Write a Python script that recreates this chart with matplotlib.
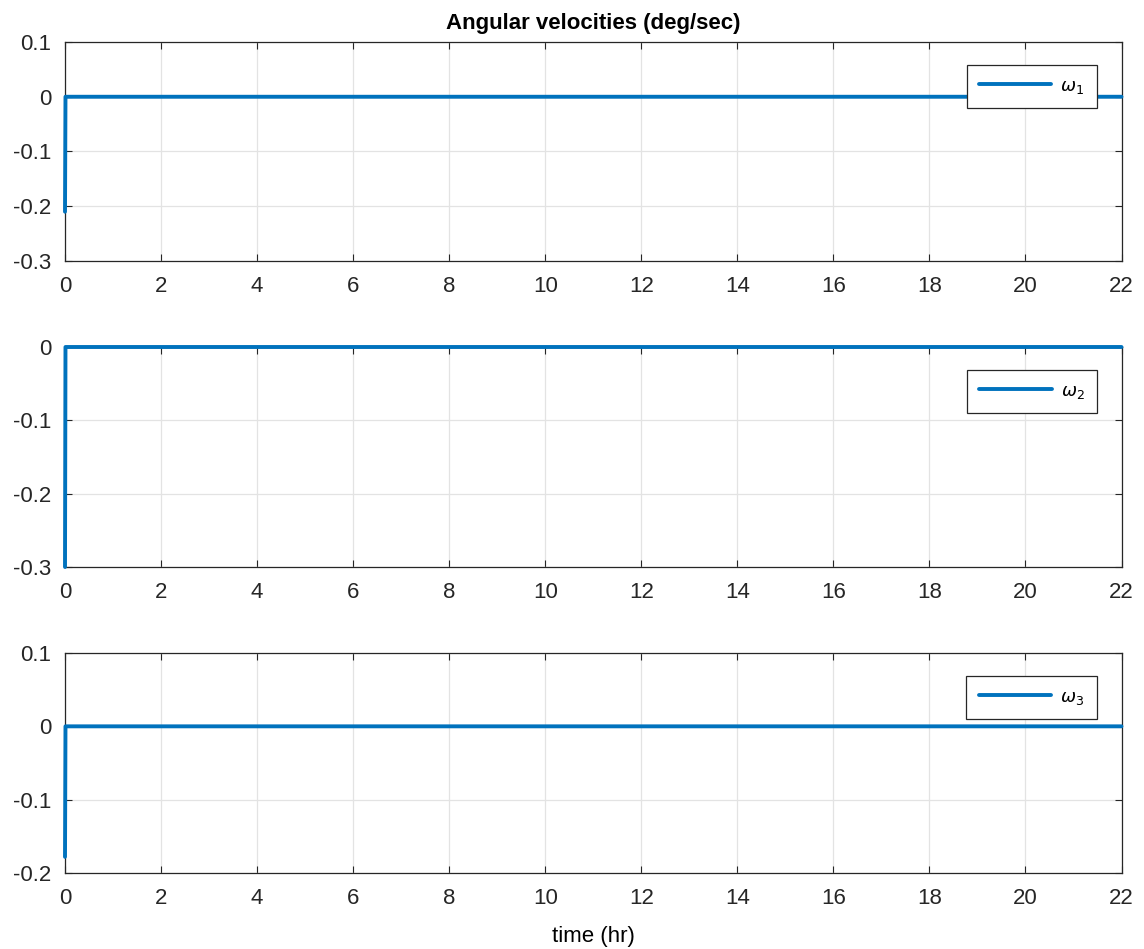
import matplotlib.pyplot as plt

plt.rcParams['font.family'] = ['Liberation Sans', 'DejaVu Sans']
plt.rcParams['mathtext.fontset'] = 'dejavusans'

# data
time_hr = [0.0, 0.01, 22.0]
omega_1 = [-0.21, 0.0, 0.0]
omega_2 = [-0.30, 0.0, 0.0]
omega_3 = [-0.178, 0.0, 0.0]
series = [omega_1, omega_2, omega_3]
labels = [r'$\omega_1$', r'$\omega_2$', r'$\omega_3$']
ylims = [(-0.3, 0.1), (-0.3, 0.0), (-0.2, 0.1)]
yticks = [[-0.3, -0.2, -0.1, 0, 0.1], [-0.3, -0.2, -0.1, 0], [-0.2, -0.1, 0, 0.1]]
xticks = list(range(0, 23, 2))

W, H = 1144, 949
fig = plt.figure(figsize=(W / 100, H / 100), dpi=100)

left = 65 / W
width = (1121.5 - 65) / W
boxes = [(42, 261), (347, 567), (653, 873)]

blue = '#0072BD'
spine_c = '#262626'

for i, (top, bot) in enumerate(boxes):
    ax = fig.add_axes([left, 1 - bot / H, width, (bot - top) / H])
    ax.plot(time_hr, series[i], color=blue, lw=2.8, label=labels[i],
            solid_capstyle='round', clip_on=False, zorder=3)
    ax.set_xlim(0, 22)
    ax.set_ylim(*ylims[i])
    ax.set_xticks(xticks)
    ax.set_yticks(yticks[i])
    ax.set_yticklabels([('%g' % v) for v in yticks[i]])
    ax.grid(True, color='#e3e3e3', lw=0.9)
    ax.set_axisbelow(True)
    ax.tick_params(direction='in', top=True, right=True, length=5, width=0.8,
                   colors=spine_c, labelsize=16)
    ax.tick_params(axis='x', pad=11)
    ax.tick_params(axis='y', pad=10)
    for s in ax.spines.values():
        s.set_color(spine_c)
        s.set_linewidth(0.9)
    ax_w = 1121.5 - 65
    ax_h = bot - top
    leg = ax.legend(loc='upper right',
                    bbox_to_anchor=(1 - 24.5 / ax_w, 1 - 23 / ax_h),
                    borderaxespad=0, fontsize=13, handlelength=4.0,
                    handletextpad=0.5, borderpad=0.7, fancybox=False,
                    framealpha=1, edgecolor=spine_c)
    leg.get_frame().set_linewidth(0.9)
    if i == 0:
        ax.set_title('Angular velocities (deg/sec)', fontsize=16,
                     fontweight='bold', pad=9)
    if i == 2:
        ax.set_xlabel('time (hr)', fontsize=16, labelpad=12)

fig.savefig('out.png', dpi=100)
